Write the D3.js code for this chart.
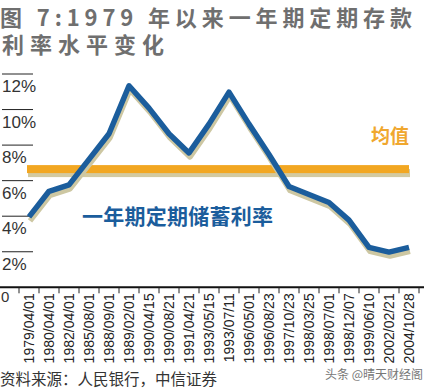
<!DOCTYPE html>
<html><head><meta charset="utf-8">
<script src="https://cdn.jsdelivr.net/npm/d3@7"></script>
<style>
html,body{margin:0;padding:0;background:#fff;}
svg{display:block;}
</style></head>
<body>
<svg id="chart" width="424" height="388"></svg>
<script>
const dates = ["1979/04/01","1980/04/01","1982/04/01","1985/08/01","1988/09/01","1989/02/01","1990/04/15","1990/08/21","1991/04/21","1993/05/15","1993/07/11","1996/05/01","1996/08/23","1997/10/23","1998/03/25","1998/07/01","1998/12/07","1999/06/10","2002/02/21","2004/10/28"];
const rates = [3.96,5.40,5.76,7.20,8.64,11.34,10.08,8.64,7.56,9.18,10.98,9.18,7.47,5.67,5.22,4.77,3.78,2.25,1.98,2.25];
const meanValue = 6.65;
const yTicks = [2,4,6,8,10,12];
const titleLines = ["图 7:1979 年以来一年期定期存款","利率水平变化"];
const seriesLabel = "一年期定期储蓄利率";
const meanLabel = "均值";
const sourceText = "资料来源：人民银行，中信证券";
const watermark = "头条 @晴天财经阁";

const svg = d3.select("#chart");
const CJK = "'Noto Sans CJK SC','Liberation Sans',sans-serif";
const LAT = "'Liberation Sans',Arial,sans-serif";

const x = d3.scaleBand().domain(dates).range([19, 419]);
const y = d3.scaleLinear().domain([0, 12]).range([287.3, 74]);
const cx = d => x(d) + x.bandwidth() / 2;

// title
svg.append("text").attr("x", 0).attr("y", 26)
  .attr("font-family", CJK).attr("font-weight", "bold").attr("font-size", 22)
  .attr("fill", "#6f6f6f").attr("textLength", 412).attr("lengthAdjust", "spacing")
  .text(titleLines[0]);
svg.append("text").attr("x", 2).attr("y", 52.5)
  .attr("font-family", CJK).attr("font-weight", "bold").attr("font-size", 22)
  .attr("fill", "#6f6f6f").attr("textLength", 162).attr("lengthAdjust", "spacing")
  .text(titleLines[1]);

// y gridlines & labels
const yg = svg.append("g");
yTicks.forEach(t => {
  yg.append("line").attr("x1", 2).attr("x2", 33).attr("y1", y(t)).attr("y2", y(t))
    .attr("stroke", "#222").attr("stroke-width", 1);
  yg.append("text").attr("x", 2).attr("y", y(t) + 18)
    .attr("font-family", LAT).attr("font-size", 17).attr("fill", "#333")
    .text(t + "%");
});
yg.append("text").attr("x", 1).attr("y", 302)
  .attr("font-family", LAT).attr("font-size", 15).attr("fill", "#333").text("0");

// x axis
const xAxis = d3.axisBottom(x).tickSize(0).tickFormat(d => d);
const ax = svg.append("g").attr("transform", "translate(0," + y(0) + ")").call(xAxis);
ax.select(".domain").remove();
ax.selectAll("text")
  .attr("font-family", LAT).attr("font-size", 14).attr("fill", "#222")
  .attr("text-anchor", "end")
  .attr("transform", "rotate(-90)")
  .attr("x", -6).attr("y", 0).attr("dy", "0.36em");
svg.append("line").attr("x1", 0).attr("x2", 424).attr("y1", y(0)).attr("y2", y(0))
  .attr("stroke", "#111").attr("stroke-width", 2);
const edges = dates.map(d => x(d)).concat([x(dates[dates.length - 1]) + x.step()]);
svg.append("g").selectAll("line").data(edges).join("line")
  .attr("x1", d => d).attr("x2", d => d).attr("y1", y(0)).attr("y2", y(0) + 6)
  .attr("stroke", "#222").attr("stroke-width", 1);

// mean line with shadow
const mx0 = cx(dates[0]) - 2, mx1 = cx(dates[dates.length - 1]);
svg.append("rect").attr("x", mx0 + 1).attr("y", y(meanValue) + 0).attr("width", mx1 - mx0).attr("height", 8)
  .attr("fill", "#d3caa0");
svg.append("rect").attr("x", mx0).attr("y", y(meanValue) - 4).attr("width", mx1 - mx0).attr("height", 8)
  .attr("fill", "#f2a722");

// rate line with shadow
const line = d3.line().x((d, i) => cx(dates[i])).y(d => y(d));
svg.append("path").datum(rates).attr("d", line)
  .attr("transform", "translate(1,4)")
  .attr("fill", "none").attr("stroke", "#cdc7a2").attr("stroke-width", 5.5)
  .attr("stroke-linejoin", "round");
svg.append("path").datum(rates).attr("d", line)
  .attr("fill", "none").attr("stroke", "#1b5d9c").attr("stroke-width", 5.5)
  .attr("stroke-linejoin", "round");

// labels
svg.append("text").attr("x", 82).attr("y", 224)
  .attr("font-family", CJK).attr("font-weight", "bold").attr("font-size", 21)
  .attr("fill", "#1b5d9c").attr("textLength", 191).attr("lengthAdjust", "spacing")
  .text(seriesLabel);
svg.append("text").attr("x", 409).attr("y", 143).attr("text-anchor", "end")
  .attr("font-family", CJK).attr("font-weight", "bold").attr("font-size", 19)
  .attr("fill", "#f0a72e").text(meanLabel);

// source & watermark
svg.append("text").attr("x", 0).attr("y", 385)
  .attr("font-family", CJK).attr("font-size", 15.5).attr("fill", "#333")
  .attr("textLength", 217).attr("lengthAdjust", "spacing")
  .text(sourceText);
svg.append("text").attr("x", 325).attr("y", 379)
  .attr("font-family", CJK).attr("font-size", 12).attr("fill", "#777")
  .text(watermark);
</script>
</body></html>
